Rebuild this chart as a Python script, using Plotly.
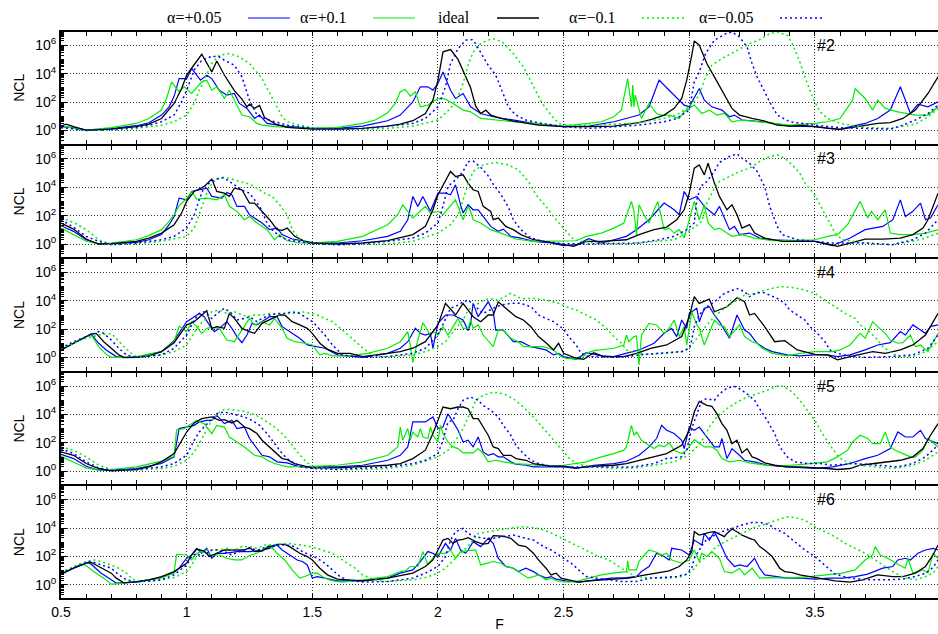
import plotly.graph_objects as go
from plotly.subplots import make_subplots

# ---------------- data (F, log10 NCL) ----------------
panel_labels = ["#2", "#3", "#4", "#5", "#6"]
series_names = ["α=+0.05", "α=+0.1", "ideal", "α=−0.1", "α=−0.05"]
x_tick_vals = [0.5, 1, 1.5, 2, 2.5, 3, 3.5]
x_tick_text = ["0.5", "1", "1.5", "2", "2.5", "3", "3.5"]
y_tick_vals = [1, 1e2, 1e4, 1e6]
y_tick_text = ["10<sup>0</sup>", "10<sup>2</sup>", "10<sup>4</sup>", "10<sup>6</sup>"]

# ---- panel #2 ----
p2_ap005 = [(0.50,0.26),(0.55,0.19),(0.60,0.02),(0.70,0.12),(0.80,0.33),(0.85,0.54),(0.90,1.08),(0.93,1.66),(0.95,2.4),(0.97,3.65),(1.00,3.65),(1.02,4.36),(1.055,3.54),(1.08,3.89),(1.10,3.65),(1.13,2.83),(1.16,2.48),(1.19,2.6),(1.21,1.9),(1.24,1.55),(1.27,0.84),(1.29,1.08),(1.32,0.49),(1.39,0.30),(1.50,0.14),(1.60,0.14),(1.70,0.30),(1.80,0.68),(1.85,1.08),(1.90,2.0),(1.93,3.07),(1.96,3.07),(1.98,2.83),(2.00,3.30),(2.02,4.12),(2.05,2.83),(2.07,2.25),(2.10,2.60),(2.13,1.66),(2.17,1.19),(2.22,0.96),(2.30,0.73),(2.40,0.44),(2.50,0.26),(2.60,0.30),(2.70,0.61),(2.75,0.84),(2.80,1.08),(2.84,1.66),(2.88,3.54),(2.92,2.83),(2.96,2.13),(2.98,1.78),(3.00,1.66),(3.04,2.95),(3.06,2.13),(3.09,1.66),(3.13,1.43),(3.16,0.96),(3.18,1.08),(3.21,0.73),(3.25,0.68),(3.32,0.54),(3.40,0.30),(3.50,0.26),(3.55,0.14),(3.60,0.07),(3.65,0.30),(3.70,0.49),(3.75,0.84),(3.80,1.43),(3.84,3.07),(3.88,1.19),(3.91,1.85),(3.95,1.66),(3.99,2.01)]
p2_ap01 = [(0.50,0.30),(0.60,0.02),(0.70,0.19),(0.80,0.49),(0.85,0.84),(0.90,1.43),(0.92,2.25),(0.94,3.42),(0.97,2.72),(0.99,3.07),(1.02,2.60),(1.06,3.42),(1.08,3.54),(1.10,2.83),(1.12,3.07),(1.15,2.25),(1.17,2.83),(1.19,2.13),(1.22,1.08),(1.25,0.96),(1.28,0.49),(1.30,0.37),(1.35,0.26),(1.50,0.14),(1.60,0.21),(1.70,0.49),(1.75,0.73),(1.80,1.24),(1.83,1.9),(1.85,2.72),(1.87,2.88),(1.89,2.41),(1.91,2.72),(1.93,1.66),(1.96,1.78),(2.00,2.25),(2.03,2.2),(2.06,1.9),(2.08,1.66),(2.10,1.43),(2.13,1.31),(2.17,0.84),(2.26,0.68),(2.40,0.44),(2.50,0.30),(2.60,0.49),(2.65,0.61),(2.70,0.96),(2.73,1.43),(2.755,3.65),(2.77,1.66),(2.775,3.19),(2.78,1.66),(2.785,2.48),(2.81,0.84),(2.84,1.9),(2.87,1.19),(2.89,1.08),(2.92,1.08),(2.96,0.84),(2.98,1.31),(3.02,1.78),(3.05,1.19),(3.08,1.43),(3.11,1.08),(3.14,1.19),(3.17,0.61),(3.21,0.73),(3.28,0.61),(3.40,0.37),(3.50,0.49),(3.55,0.61),(3.60,0.84),(3.65,2.13),(3.66,2.95),(3.70,2.25),(3.73,1.43),(3.75,2.13),(3.78,1.55),(3.83,1.31),(3.90,1.08),(3.95,1.08),(3.99,1.66)]
p2_ideal = [(0.50,0.30),(0.52,0.44),(0.55,0.26),(0.60,0.02),(0.70,0.09),(0.80,0.26),(0.85,0.44),(0.90,0.84),(0.95,1.90),(0.98,2.95),(1.00,3.89),(1.03,4.59),(1.06,5.36),(1.10,4.12),(1.12,4.89),(1.15,3.9),(1.19,2.8),(1.22,2.2),(1.24,1.65),(1.25,1.85),(1.27,1.55),(1.29,1.75),(1.31,0.9),(1.33,0.7),(1.36,0.4),(1.40,0.21),(1.50,0.09),(1.60,0.09),(1.70,0.14),(1.80,0.30),(1.85,0.44),(1.90,0.68),(1.95,1.19),(1.98,2.13),(2.00,3.54),(2.02,5.53),(2.05,5.69),(2.08,5.0),(2.10,4.2),(2.13,3.0),(2.15,1.71),(2.17,1.19),(2.19,1.43),(2.21,1.08),(2.25,0.84),(2.30,0.66),(2.40,0.37),(2.50,0.26),(2.60,0.26),(2.70,0.30),(2.80,0.54),(2.85,0.77),(2.90,1.08),(2.94,1.55),(2.97,2.25),(2.99,3.54),(3.01,5.29),(3.02,6.30),(3.04,6.00),(3.07,4.71),(3.10,3.77),(3.13,2.83),(3.15,2.25),(3.17,1.55),(3.20,1.08),(3.25,0.84),(3.30,0.66),(3.35,0.37),(3.40,0.30),(3.45,0.35),(3.50,0.26),(3.55,0.14),(3.60,0.07),(3.65,0.21),(3.70,0.37),(3.75,0.49),(3.80,0.54),(3.85,0.84),(3.90,1.43),(3.95,2.60),(3.99,3.77)]
p2_am01 = [(0.50,0.19),(0.60,0.0),(0.70,0.02),(0.80,0.14),(0.90,0.37),(0.95,0.61),(1.00,1.08),(1.03,1.9),(1.05,2.83),(1.08,4.0),(1.10,4.71),(1.13,5.29),(1.17,5.41),(1.21,5.18),(1.25,4.71),(1.30,3.65),(1.33,2.6),(1.35,1.9),(1.38,0.96),(1.40,0.61),(1.45,0.37),(1.50,0.19),(1.60,0.07),(1.70,0.07),(1.80,0.14),(1.90,0.30),(2.00,0.73),(2.05,1.55),(2.08,2.4),(2.10,3.3),(2.12,4.6),(2.14,5.5),(2.16,6.0),(2.19,6.3),(2.22,6.46),(2.255,6.25),(2.30,5.41),(2.34,4.47),(2.375,3.3),(2.415,1.9),(2.45,1.08),(2.48,0.49),(2.52,0.37),(2.60,0.37),(2.70,0.44),(2.80,0.54),(2.90,0.84),(2.95,1.08),(3.00,1.66),(3.04,2.48),(3.06,3.54),(3.09,4.59),(3.13,5.06),(3.19,5.64),(3.24,6.11),(3.28,6.39),(3.32,6.81),(3.35,6.93),(3.39,6.7),(3.41,6.11),(3.44,4.82),(3.46,3.77),(3.49,2.37),(3.52,1.31),(3.55,0.84),(3.60,0.49),(3.70,0.21),(3.80,0.14),(3.90,0.44),(3.95,0.96),(3.99,1.55)]
p2_am005 = [(0.50,0.21),(0.60,0.0),(0.70,0.07),(0.80,0.21),(0.85,0.37),(0.90,0.61),(0.95,1.08),(0.98,2.01),(1.00,2.83),(1.03,4.24),(1.06,4.94),(1.10,5.22),(1.13,5.18),(1.15,4.94),(1.19,4.59),(1.22,3.77),(1.25,2.13),(1.28,1.08),(1.30,0.91),(1.35,0.61),(1.40,0.37),(1.50,0.14),(1.60,0.07),(1.70,0.14),(1.80,0.30),(1.90,0.49),(1.95,0.84),(2.00,1.66),(2.03,3.07),(2.05,4.71),(2.08,5.76),(2.11,6.35),(2.136,6.39),(2.15,6.11),(2.18,5.18),(2.20,4.59),(2.23,3.89),(2.255,2.83),(2.28,1.66),(2.31,1.08),(2.35,0.73),(2.40,0.54),(2.50,0.26),(2.60,0.14),(2.70,0.26),(2.80,0.37),(2.90,0.61),(2.95,0.84),(3.00,1.43),(3.02,3.42),(3.04,4.12),(3.065,5.41),(3.10,6.35),(3.145,6.81),(3.17,6.93),(3.20,6.58),(3.23,5.88),(3.25,4.71),(3.27,3.77),(3.32,2.01),(3.35,1.08),(3.40,0.61),(3.50,0.37),(3.60,0.19),(3.70,0.14),(3.80,0.09),(3.85,0.37),(3.90,0.73),(3.95,1.19),(3.99,1.78)]

# ---- panel #3 ----
p3_ap005 = [(0.50,1.29),(0.55,0.89),(0.60,0.3),(0.65,0.0),(0.70,0.02),(0.80,0.12),(0.85,0.3),(0.90,0.66),(0.93,1.36),(0.95,1.94),(0.97,3.23),(1.00,3.11),(1.02,3.7),(1.06,3.82),(1.08,3.93),(1.10,3.35),(1.14,3.23),(1.16,3.63),(1.18,3.47),(1.20,2.65),(1.23,2.65),(1.25,2.06),(1.28,1.71),(1.30,1.48),(1.33,1.01),(1.36,1.12),(1.38,0.66),(1.42,0.35),(1.50,0.12),(1.60,0.07),(1.70,0.23),(1.80,0.54),(1.85,0.89),(1.88,1.71),(1.90,3.35),(1.92,2.65),(1.94,3.35),(1.97,2.3),(2.00,3.58),(2.03,3.58),(2.05,3.47),(2.07,4.17),(2.09,2.76),(2.10,2.18),(2.12,2.76),(2.14,2.41),(2.16,2.41),(2.18,1.94),(2.21,1.24),(2.24,0.89),(2.26,1.05),(2.29,0.54),(2.33,0.42),(2.38,0.19),(2.45,0.07),(2.50,-0.12),(2.55,-0.05),(2.60,0.37),(2.65,0.07),(2.70,0.3),(2.75,0.54),(2.79,1.01),(2.84,1.71),(2.90,2.88),(2.94,2.41),(2.96,2.06),(2.98,3.7),(3.00,3.11),(3.03,3.35),(3.06,2.65),(3.10,2.06),(3.12,2.65),(3.16,1.01),(3.18,1.24),(3.20,0.66),(3.24,0.77),(3.28,0.42),(3.33,0.3),(3.50,0.19),(3.57,-0.12),(3.64,0.42),(3.70,1.01),(3.77,1.24),(3.81,1.71),(3.84,3.11),(3.86,1.94),(3.89,2.3),(3.92,2.88),(3.94,1.71),(3.96,1.83),(3.99,2.76)]
p3_ap01 = [(0.50,1.12),(0.55,0.66),(0.60,0.19),(0.65,0.0),(0.70,0.07),(0.80,0.3),(0.85,0.59),(0.90,1.01),(0.93,1.59),(0.95,2.06),(0.97,2.7),(1.00,3.2),(1.02,3.7),(1.04,3.16),(1.08,3.23),(1.12,3.11),(1.15,3.47),(1.17,2.65),(1.20,2.3),(1.23,1.71),(1.25,1.94),(1.28,1.48),(1.32,1.01),(1.35,0.3),(1.37,0.66),(1.40,0.23),(1.45,0.07),(1.50,0.07),(1.60,0.19),(1.70,0.54),(1.80,1.36),(1.84,2.06),(1.86,2.76),(1.90,1.83),(1.95,2.65),(1.97,2.18),(2.00,2.3),(2.02,2.06),(2.05,2.65),(2.07,3.11),(2.10,1.71),(2.12,2.65),(2.13,2.3),(2.14,1.71),(2.17,1.48),(2.21,1.01),(2.25,0.77),(2.28,0.54),(2.31,0.35),(2.38,0.19),(2.50,0.19),(2.55,0.23),(2.59,0.54),(2.65,0.77),(2.70,1.12),(2.74,1.48),(2.77,3.0),(2.78,2.3),(2.79,0.66),(2.80,2.76),(2.82,2.06),(2.84,1.48),(2.86,2.41),(2.875,3.0),(2.90,1.01),(2.92,1.12),(2.94,0.77),(2.96,1.01),(2.98,0.42),(3.00,1.71),(3.02,3.0),(3.04,1.71),(3.06,2.76),(3.075,1.48),(3.10,1.01),(3.12,1.12),(3.15,0.77),(3.17,0.54),(3.21,0.66),(3.26,0.42),(3.33,0.23),(3.50,0.3),(3.55,0.54),(3.59,0.66),(3.63,1.36),(3.66,2.41),(3.68,3.0),(3.71,1.83),(3.725,2.3),(3.75,1.71),(3.78,2.41),(3.80,0.77),(3.84,0.66),(3.89,0.66),(3.94,0.77),(3.99,1.01)]
p3_ideal = [(0.50,1.48),(0.55,1.05),(0.60,0.35),(0.65,0.0),(0.70,0.02),(0.80,0.19),(0.85,0.42),(0.90,0.77),(0.95,1.36),(0.98,2.18),(1.00,3.0),(1.03,3.7),(1.07,4.05),(1.10,4.57),(1.12,3.7),(1.15,3.58),(1.17,3.35),(1.19,3.93),(1.22,3.82),(1.25,2.88),(1.27,2.88),(1.30,2.3),(1.33,1.71),(1.36,1.01),(1.38,0.96),(1.40,1.12),(1.43,0.54),(1.47,0.19),(1.50,0.07),(1.60,0.0),(1.70,0.07),(1.80,0.23),(1.90,0.66),(1.95,1.24),(1.98,2.41),(2.00,3.47),(2.03,4.52),(2.05,5.11),(2.07,4.75),(2.10,4.87),(2.12,4.29),(2.14,3.82),(2.16,3.7),(2.18,2.65),(2.21,2.3),(2.22,1.71),(2.24,1.83),(2.27,1.24),(2.30,1.01),(2.33,0.66),(2.38,0.3),(2.45,0.07),(2.50,-0.05),(2.54,-0.16),(2.59,0.19),(2.65,0.19),(2.70,0.23),(2.75,0.3),(2.80,0.66),(2.86,1.01),(2.91,1.19),(2.95,1.71),(2.98,2.41),(3.00,3.58),(3.02,5.34),(3.04,5.57),(3.06,4.87),(3.075,5.69),(3.10,4.29),(3.12,3.35),(3.15,2.41),(3.17,2.76),(3.19,2.06),(3.21,1.12),(3.24,1.36),(3.26,0.77),(3.30,0.42),(3.37,0.19),(3.44,0.19),(3.50,0.19),(3.55,0.0),(3.59,-0.16),(3.64,0.07),(3.70,0.35),(3.77,0.35),(3.84,0.42),(3.89,0.66),(3.93,1.12),(3.95,1.71),(3.99,3.58)]
p3_am01 = [(0.50,1.83),(0.55,1.52),(0.60,1.01),(0.65,0.3),(0.70,-0.05),(0.80,0.0),(0.90,0.19),(1.00,0.54),(1.03,1.12),(1.05,2.06),(1.08,3.58),(1.10,4.29),(1.13,4.64),(1.15,4.71),(1.18,4.57),(1.21,4.4),(1.25,4.22),(1.28,3.93),(1.31,3.58),(1.34,3.35),(1.37,2.76),(1.40,2.06),(1.42,1.01),(1.45,0.3),(1.47,0.19),(1.50,0.07),(1.60,-0.05),(1.70,-0.05),(1.80,0.0),(1.90,0.19),(2.00,0.77),(2.05,1.36),(2.08,2.06),(2.10,3.11),(2.12,4.2),(2.14,5.11),(2.18,5.57),(2.23,5.74),(2.28,5.57),(2.32,5.22),(2.36,4.4),(2.39,3.47),(2.43,2.65),(2.47,1.71),(2.51,0.89),(2.54,0.3),(2.57,0.19),(2.65,0.02),(2.75,0.0),(2.86,0.19),(2.94,0.3),(2.99,0.77),(3.05,1.59),(3.07,2.88),(3.10,3.93),(3.12,4.4),(3.16,4.75),(3.20,5.11),(3.24,5.34),(3.28,5.81),(3.32,6.16),(3.35,6.28),(3.38,6.04),(3.41,5.57),(3.44,4.99),(3.46,4.29),(3.50,3.47),(3.53,2.41),(3.56,1.48),(3.58,0.77),(3.61,0.3),(3.70,0.07),(3.80,-0.05),(3.89,0.19),(3.94,0.42),(3.99,0.77)]
p3_am005 = [(0.50,1.71),(0.55,1.19),(0.60,0.54),(0.65,0.19),(0.70,-0.05),(0.80,0.07),(0.90,0.3),(0.95,0.54),(1.00,1.12),(1.03,2.06),(1.05,3.11),(1.07,4.05),(1.10,4.4),(1.13,4.64),(1.15,4.64),(1.18,4.29),(1.20,4.05),(1.23,3.7),(1.25,3.58),(1.27,3.11),(1.29,2.65),(1.30,2.3),(1.32,1.48),(1.34,1.01),(1.37,0.54),(1.40,0.3),(1.50,0.02),(1.60,-0.05),(1.70,0.02),(1.80,0.19),(1.90,0.42),(1.95,0.77),(2.00,1.48),(2.02,2.65),(2.04,4.05),(2.07,4.52),(2.10,5.11),(2.12,5.8),(2.14,5.85),(2.17,5.4),(2.20,4.8),(2.22,4.2),(2.25,3.5),(2.28,2.6),(2.30,1.71),(2.33,1.01),(2.37,0.42),(2.42,0.19),(2.50,0.02),(2.59,0.0),(2.70,0.02),(2.80,0.07),(2.88,0.3),(2.94,0.54),(2.99,1.01),(3.02,1.48),(3.03,3.11),(3.045,4.05),(3.07,4.4),(3.10,5.11),(3.12,5.74),(3.16,6.16),(3.19,6.35),(3.21,6.04),(3.24,5.69),(3.27,5.11),(3.30,4.05),(3.32,2.65),(3.35,1.24),(3.37,0.66),(3.43,0.3),(3.50,0.19),(3.57,0.07),(3.70,0.07),(3.81,-0.05),(3.89,0.3),(3.94,0.77),(3.99,1.71)]

# ---- panel #4 ----
p4_ap005 = [(0.50,0.54),(0.55,1.01),(0.60,1.48),(0.62,1.66),(0.65,1.01),(0.68,0.54),(0.72,0.07),(0.75,0.0),(0.80,0.02),(0.90,0.42),(0.95,1.19),(1.00,2.53),(1.02,2.76),(1.05,3.11),(1.07,2.88),(1.09,2.3),(1.11,1.83),(1.13,2.06),(1.16,2.53),(1.18,2.06),(1.20,1.48),(1.22,1.05),(1.24,1.59),(1.26,2.41),(1.28,2.3),(1.30,2.53),(1.33,2.88),(1.36,2.88),(1.38,2.18),(1.42,1.71),(1.45,1.36),(1.48,0.89),(1.50,0.82),(1.55,0.66),(1.60,0.19),(1.70,0.02),(1.80,0.3),(1.85,0.66),(1.88,1.12),(1.91,2.06),(1.93,1.71),(1.95,1.59),(1.97,1.71),(1.98,0.66),(2.00,2.41),(2.03,3.0),(2.06,3.0),(2.10,2.65),(2.12,1.9),(2.13,2.41),(2.14,3.82),(2.16,2.88),(2.20,3.93),(2.22,3.23),(2.23,1.94),(2.26,1.94),(2.30,1.12),(2.33,1.12),(2.37,0.77),(2.40,0.66),(2.43,0.54),(2.46,0.19),(2.48,0.3),(2.50,0.07),(2.55,-0.12),(2.59,0.35),(2.65,0.12),(2.70,0.07),(2.75,0.3),(2.80,0.54),(2.86,1.01),(2.90,1.71),(2.93,2.06),(2.95,1.48),(2.97,2.65),(2.99,2.06),(3.00,3.11),(3.03,3.47),(3.04,2.53),(3.06,3.47),(3.08,3.58),(3.10,3.0),(3.12,2.53),(3.16,1.36),(3.19,3.0),(3.22,1.94),(3.24,1.71),(3.27,1.01),(3.30,0.66),(3.33,0.42),(3.39,0.19),(3.44,0.12),(3.50,0.19),(3.55,0.19),(3.59,0.07),(3.64,0.19),(3.70,0.54),(3.75,0.89),(3.80,1.05),(3.84,1.83),(3.86,1.59),(3.89,2.3),(3.92,1.94),(3.94,1.71),(3.96,2.18),(3.99,2.3)]
p4_ap01 = [(0.50,0.54),(0.55,1.01),(0.60,1.48),(0.62,1.59),(0.65,0.77),(0.68,0.23),(0.70,0.02),(0.75,0.02),(0.80,0.07),(0.90,0.42),(0.95,1.12),(0.97,2.2),(1.00,1.83),(1.02,2.53),(1.04,2.18),(1.06,1.71),(1.08,2.06),(1.10,2.13),(1.13,2.06),(1.16,1.24),(1.19,1.12),(1.25,2.76),(1.27,2.3),(1.30,2.53),(1.33,2.3),(1.35,2.76),(1.38,2.06),(1.40,1.36),(1.43,1.12),(1.47,1.01),(1.50,0.89),(1.53,0.19),(1.55,0.3),(1.58,0.12),(1.65,0.12),(1.72,0.3),(1.80,0.66),(1.85,1.12),(1.88,1.83),(1.89,0.89),(1.90,-0.33),(1.92,1.24),(1.94,2.46),(1.97,1.59),(1.98,1.83),(2.00,1.59),(2.02,2.18),(2.04,1.59),(2.06,2.18),(2.08,2.76),(2.10,2.06),(2.12,2.06),(2.13,2.65),(2.14,2.06),(2.16,2.3),(2.18,1.59),(2.22,0.77),(2.24,1.94),(2.26,1.94),(2.29,1.36),(2.32,1.12),(2.34,0.77),(2.42,0.77),(2.46,0.54),(2.49,0.07),(2.51,-0.05),(2.57,-0.12),(2.59,0.3),(2.62,0.49),(2.66,0.59),(2.70,0.66),(2.74,0.89),(2.75,1.59),(2.76,1.12),(2.78,1.48),(2.79,1.52),(2.80,-0.52),(2.81,1.59),(2.84,2.41),(2.87,2.3),(2.90,1.71),(2.92,2.06),(2.94,2.65),(2.96,1.48),(2.98,2.18),(2.99,0.89),(3.01,3.23),(3.03,2.3),(3.04,2.06),(3.06,0.89),(3.08,1.71),(3.10,2.65),(3.12,2.3),(3.14,2.18),(3.16,1.48),(3.20,2.3),(3.22,1.48),(3.25,1.12),(3.27,1.01),(3.29,0.66),(3.33,0.3),(3.39,0.12),(3.44,0.3),(3.50,0.42),(3.57,0.42),(3.60,0.54),(3.64,0.89),(3.68,1.71),(3.70,1.36),(3.73,2.53),(3.75,2.18),(3.78,1.71),(3.80,1.24),(3.83,1.01),(3.85,1.05),(3.88,1.59),(3.90,0.77),(3.92,0.89),(3.95,0.42),(3.99,1.71)]
p4_ideal = [(0.50,0.54),(0.55,1.01),(0.60,1.48),(0.62,1.66),(0.64,1.71),(0.67,1.12),(0.70,0.66),(0.73,0.19),(0.75,0.02),(0.80,0.02),(0.85,0.12),(0.90,0.42),(0.95,1.05),(1.00,2.3),(1.03,2.53),(1.06,3.0),(1.08,3.3),(1.10,2.06),(1.12,2.18),(1.15,2.06),(1.17,3.11),(1.19,2.76),(1.22,2.06),(1.25,1.83),(1.27,1.71),(1.30,2.41),(1.33,2.65),(1.37,3.0),(1.39,3.0),(1.42,2.53),(1.45,2.3),(1.48,2.06),(1.50,1.71),(1.53,1.01),(1.56,0.59),(1.60,0.3),(1.65,0.3),(1.70,0.07),(1.80,0.3),(1.85,0.42),(1.90,0.66),(1.95,1.12),(2.00,2.3),(2.03,3.82),(2.07,3.0),(2.10,3.82),(2.12,3.35),(2.14,2.88),(2.17,2.53),(2.20,3.0),(2.22,3.0),(2.24,3.93),(2.27,3.47),(2.31,2.88),(2.34,2.65),(2.37,2.18),(2.40,1.48),(2.43,1.05),(2.46,0.54),(2.48,1.01),(2.50,0.3),(2.54,0.02),(2.58,-0.12),(2.62,0.35),(2.66,0.07),(2.74,0.07),(2.79,0.3),(2.85,0.66),(2.91,0.89),(2.97,1.48),(3.00,2.88),(3.02,4.29),(3.04,3.82),(3.08,4.12),(3.10,3.23),(3.15,3.58),(3.19,4.22),(3.22,3.93),(3.24,3.0),(3.26,3.11),(3.30,2.18),(3.34,1.12),(3.38,1.19),(3.43,0.54),(3.50,0.23),(3.55,0.19),(3.59,-0.16),(3.64,0.07),(3.73,0.42),(3.78,0.3),(3.84,0.54),(3.89,0.89),(3.94,1.59),(3.99,3.11)]
p4_am01 = [(0.50,0.66),(0.55,1.01),(0.60,1.36),(0.65,1.59),(0.70,1.71),(0.72,1.36),(0.75,0.77),(0.78,0.3),(0.80,0.07),(0.90,0.19),(0.95,0.42),(1.00,0.89),(1.03,1.71),(1.05,2.3),(1.08,2.76),(1.10,3.23),(1.13,3.35),(1.16,3.11),(1.19,3.23),(1.21,3.11),(1.24,2.88),(1.27,3.0),(1.30,3.0),(1.33,3.11),(1.36,3.0),(1.40,3.11),(1.43,3.11),(1.46,3.23),(1.49,3.11),(1.52,3.0),(1.55,2.76),(1.58,2.53),(1.62,1.94),(1.65,1.48),(1.68,1.01),(1.71,0.54),(1.74,0.19),(1.80,0.02),(1.90,0.19),(1.95,0.42),(2.00,0.77),(2.03,1.12),(2.05,1.59),(2.08,2.18),(2.10,2.65),(2.12,3.35),(2.16,3.82),(2.20,4.17),(2.24,4.05),(2.29,4.52),(2.33,4.17),(2.38,4.17),(2.43,4.05),(2.48,3.82),(2.51,3.58),(2.55,3.35),(2.59,3.0),(2.63,2.65),(2.67,2.06),(2.70,1.48),(2.73,1.01),(2.75,0.54),(2.78,0.35),(2.83,0.23),(2.91,0.3),(2.97,0.42),(3.00,0.66),(3.03,1.36),(3.05,1.83),(3.07,2.3),(3.10,2.88),(3.14,3.47),(3.18,3.93),(3.22,4.4),(3.26,4.52),(3.30,4.75),(3.34,4.92),(3.37,4.99),(3.42,4.92),(3.46,4.75),(3.50,4.52),(3.54,4.05),(3.58,3.58),(3.62,3.11),(3.66,2.76),(3.68,2.3),(3.71,1.94),(3.75,1.24),(3.77,0.77),(3.81,0.3),(3.84,0.02),(3.89,0.07),(3.94,0.42),(3.99,1.12)]
p4_am005 = [(0.50,0.66),(0.55,1.12),(0.60,1.48),(0.65,1.83),(0.67,1.71),(0.70,1.24),(0.73,0.66),(0.76,0.19),(0.80,0.02),(0.90,0.19),(0.95,0.66),(1.00,1.59),(1.03,2.65),(1.05,3.11),(1.07,3.23),(1.10,2.76),(1.13,3.23),(1.15,3.47),(1.18,3.11),(1.20,2.65),(1.23,2.76),(1.25,2.88),(1.28,2.53),(1.30,2.76),(1.33,3.0),(1.36,3.11),(1.39,3.11),(1.42,3.23),(1.45,3.11),(1.48,2.76),(1.50,2.53),(1.52,2.18),(1.55,1.59),(1.58,0.89),(1.60,0.54),(1.62,0.19),(1.70,0.02),(1.80,0.07),(1.90,0.3),(1.95,0.66),(2.00,1.59),(2.03,2.65),(2.05,3.47),(2.08,3.7),(2.10,3.93),(2.12,4.05),(2.15,3.58),(2.18,3.11),(2.22,3.47),(2.25,3.7),(2.29,3.82),(2.33,3.82),(2.37,3.58),(2.40,3.0),(2.43,2.76),(2.46,2.53),(2.50,2.0),(2.52,1.48),(2.55,0.89),(2.57,0.3),(2.60,0.07),(2.70,0.02),(2.75,0.07),(2.80,0.19),(2.91,0.35),(2.97,0.42),(3.00,0.66),(3.01,1.24),(3.02,2.18),(3.04,3.0),(3.07,3.58),(3.10,3.93),(3.14,4.52),(3.17,4.75),(3.19,4.87),(3.22,4.64),(3.24,4.29),(3.27,4.57),(3.30,4.57),(3.32,4.4),(3.35,4.17),(3.38,3.82),(3.40,3.35),(3.43,3.0),(3.46,2.65),(3.48,2.18),(3.51,1.71),(3.54,1.12),(3.56,0.54),(3.59,0.3),(3.65,0.07),(3.70,0.02),(3.80,0.07),(3.89,0.19),(3.92,0.42),(3.95,0.66),(3.99,1.59)]

# ---- panel #5 ----
p5_ap005 = [(0.50,1.19),(0.55,0.89),(0.60,0.35),(0.65,0.07),(0.70,0.07),(0.80,0.19),(0.90,0.54),(0.95,1.01),(0.97,3.0),(1.00,3.11),(1.03,3.23),(1.05,3.47),(1.08,3.58),(1.10,3.58),(1.12,3.93),(1.15,3.35),(1.18,3.58),(1.20,3.0),(1.23,3.11),(1.25,2.3),(1.28,1.59),(1.30,1.12),(1.33,1.01),(1.36,0.66),(1.40,0.59),(1.45,0.3),(1.50,0.3),(1.60,0.3),(1.70,0.42),(1.80,0.77),(1.85,1.12),(1.88,1.71),(1.90,3.47),(1.93,3.47),(1.95,3.47),(1.98,3.82),(2.00,3.0),(2.02,3.11),(2.04,4.05),(2.06,3.47),(2.08,2.88),(2.10,2.06),(2.12,2.18),(2.14,1.71),(2.16,2.41),(2.18,1.36),(2.20,1.12),(2.22,1.24),(2.24,1.01),(2.26,1.01),(2.29,0.66),(2.31,0.49),(2.35,0.42),(2.38,0.3),(2.45,0.3),(2.50,0.3),(2.55,0.19),(2.62,0.42),(2.70,0.54),(2.75,0.7),(2.80,1.12),(2.84,1.71),(2.87,2.3),(2.89,3.23),(2.91,2.88),(2.94,2.65),(2.97,2.18),(2.98,1.59),(3.00,3.11),(3.02,2.88),(3.04,3.11),(3.07,2.41),(3.10,1.71),(3.12,1.71),(3.13,2.3),(3.15,0.89),(3.17,1.59),(3.20,1.12),(3.22,0.77),(3.26,0.66),(3.31,0.42),(3.39,0.3),(3.50,0.19),(3.57,0.3),(3.64,0.54),(3.70,0.89),(3.75,1.12),(3.80,1.59),(3.83,2.76),(3.86,2.41),(3.89,2.41),(3.92,2.88),(3.94,2.3),(3.99,1.94)]
p5_ap01 = [(0.50,1.05),(0.55,0.66),(0.60,0.23),(0.65,0.07),(0.70,0.12),(0.80,0.3),(0.90,0.71),(0.95,1.05),(0.96,2.9),(0.99,3.0),(1.01,3.23),(1.04,3.58),(1.07,3.35),(1.10,2.65),(1.12,3.23),(1.15,3.11),(1.17,2.41),(1.20,2.06),(1.23,1.71),(1.27,1.12),(1.30,1.01),(1.32,0.77),(1.35,0.54),(1.40,0.3),(1.45,0.3),(1.50,0.35),(1.60,0.42),(1.70,0.66),(1.80,1.12),(1.84,1.71),(1.85,3.11),(1.86,2.18),(1.88,3.0),(1.89,2.18),(1.90,2.76),(1.92,2.41),(1.93,3.0),(1.94,2.41),(1.96,2.3),(1.97,3.11),(1.98,2.53),(2.00,2.06),(2.01,3.23),(2.02,2.65),(2.04,2.06),(2.06,1.71),(2.08,1.59),(2.10,1.29),(2.12,1.29),(2.14,1.29),(2.16,1.59),(2.18,1.24),(2.20,0.66),(2.23,0.77),(2.26,0.66),(2.30,0.54),(2.36,0.49),(2.42,0.35),(2.50,0.42),(2.55,0.54),(2.59,0.66),(2.65,1.01),(2.70,1.24),(2.74,1.48),(2.75,1.71),(2.77,3.23),(2.78,2.53),(2.79,2.76),(2.81,2.18),(2.83,1.94),(2.86,1.59),(2.88,1.83),(2.90,1.71),(2.92,1.99),(2.94,1.48),(2.97,1.24),(2.99,1.48),(3.02,2.22),(3.04,1.94),(3.06,1.71),(3.09,1.71),(3.11,1.48),(3.13,0.89),(3.16,0.66),(3.20,0.77),(3.24,0.59),(3.31,0.42),(3.39,0.4),(3.44,0.47),(3.50,0.59),(3.55,0.66),(3.59,1.01),(3.63,1.48),(3.65,2.06),(3.68,2.53),(3.71,2.3),(3.73,1.94),(3.76,1.94),(3.78,2.76),(3.80,1.71),(3.82,1.48),(3.85,1.24),(3.88,1.01),(3.90,1.01),(3.93,1.48),(3.95,2.3),(3.99,1.71)]
p5_ideal = [(0.50,1.36),(0.55,1.12),(0.60,0.54),(0.65,0.19),(0.70,0.02),(0.80,0.12),(0.85,0.3),(0.90,0.66),(0.95,1.24),(0.98,2.18),(1.00,2.76),(1.03,3.4),(1.06,3.7),(1.10,3.82),(1.13,3.58),(1.15,3.63),(1.18,3.4),(1.20,3.58),(1.23,3.11),(1.25,3.0),(1.28,2.65),(1.30,2.18),(1.33,1.71),(1.36,1.24),(1.38,0.89),(1.40,0.82),(1.43,0.54),(1.47,0.35),(1.50,0.23),(1.60,0.23),(1.70,0.3),(1.80,0.42),(1.85,0.54),(1.90,0.89),(1.95,1.48),(1.98,2.65),(2.00,3.58),(2.02,4.52),(2.05,4.4),(2.08,4.52),(2.10,4.52),(2.12,4.4),(2.14,3.7),(2.16,3.7),(2.18,3.11),(2.20,2.53),(2.22,1.71),(2.24,1.59),(2.26,1.12),(2.29,1.12),(2.31,0.89),(2.35,0.77),(2.38,0.54),(2.45,0.35),(2.50,0.35),(2.55,0.23),(2.62,0.35),(2.70,0.42),(2.75,0.54),(2.80,0.77),(2.86,1.01),(2.91,1.24),(2.97,1.83),(3.00,2.88),(3.02,4.17),(3.04,4.92),(3.07,4.64),(3.09,4.57),(3.11,4.05),(3.13,3.35),(3.15,2.88),(3.17,1.94),(3.19,2.18),(3.21,1.29),(3.23,1.59),(3.25,1.01),(3.27,0.89),(3.30,0.59),(3.34,0.42),(3.39,0.3),(3.44,0.3),(3.50,0.26),(3.55,0.19),(3.59,0.12),(3.64,0.19),(3.68,0.42),(3.73,0.54),(3.78,0.66),(3.84,0.77),(3.89,1.01),(3.93,1.59),(3.96,2.53),(3.99,3.35)]
p5_am01 = [(0.50,1.71),(0.55,1.48),(0.60,1.01),(0.65,0.42),(0.70,0.12),(0.80,0.07),(0.90,0.19),(0.95,0.35),(1.00,0.77),(1.03,1.36),(1.05,1.94),(1.08,2.88),(1.10,3.58),(1.13,4.17),(1.15,4.35),(1.18,4.33),(1.20,4.29),(1.23,4.22),(1.26,4.05),(1.29,3.82),(1.32,3.47),(1.35,3.11),(1.38,2.65),(1.41,2.06),(1.44,1.36),(1.47,0.77),(1.50,0.3),(1.55,0.19),(1.60,0.12),(1.70,0.12),(1.80,0.19),(1.90,0.42),(2.00,1.01),(2.05,1.59),(2.08,2.41),(2.10,3.0),(2.12,3.82),(2.13,4.05),(2.15,4.99),(2.18,5.34),(2.22,5.57),(2.26,5.45),(2.30,5.11),(2.34,4.52),(2.38,3.82),(2.42,3.0),(2.46,2.18),(2.50,1.36),(2.53,0.77),(2.56,0.49),(2.62,0.3),(2.70,0.19),(2.78,0.23),(2.86,0.42),(2.94,0.66),(2.99,1.05),(3.03,1.71),(3.06,2.41),(3.08,3.11),(3.11,3.82),(3.15,4.4),(3.19,4.87),(3.23,5.22),(3.27,5.45),(3.31,5.69),(3.34,5.93),(3.36,6.04),(3.38,5.93),(3.41,5.57),(3.44,4.99),(3.47,4.29),(3.50,3.58),(3.53,2.65),(3.56,1.83),(3.59,1.12),(3.61,0.77),(3.68,0.42),(3.78,0.23),(3.83,0.23),(3.89,0.42),(3.94,0.77),(3.99,1.36)]
p5_am005 = [(0.50,1.59),(0.55,1.24),(0.60,0.66),(0.65,0.23),(0.70,0.07),(0.80,0.12),(0.90,0.3),(0.95,0.54),(1.00,1.12),(1.03,2.18),(1.05,2.76),(1.07,3.11),(1.10,3.7),(1.12,4.05),(1.15,4.17),(1.18,4.05),(1.20,3.93),(1.23,3.82),(1.26,3.58),(1.29,3.23),(1.32,2.65),(1.35,1.94),(1.38,1.24),(1.40,0.89),(1.43,0.54),(1.46,0.3),(1.50,0.19),(1.60,0.12),(1.70,0.19),(1.80,0.3),(1.90,0.54),(1.95,0.77),(2.00,1.24),(2.02,2.18),(2.04,3.47),(2.06,3.58),(2.08,4.4),(2.10,4.99),(2.13,5.22),(2.16,4.99),(2.18,4.64),(2.21,4.29),(2.24,3.82),(2.26,3.23),(2.29,2.53),(2.31,1.83),(2.34,1.24),(2.37,0.77),(2.40,0.54),(2.45,0.35),(2.50,0.3),(2.60,0.3),(2.70,0.35),(2.78,0.3),(2.86,0.54),(2.91,0.89),(2.97,1.01),(2.99,1.48),(3.01,3.0),(3.03,4.05),(3.05,4.99),(3.07,5.11),(3.10,4.99),(3.12,5.45),(3.15,5.85),(3.18,5.97),(3.20,5.81),(3.23,5.45),(3.26,4.99),(3.28,4.4),(3.31,3.58),(3.34,2.65),(3.36,1.71),(3.39,1.01),(3.42,0.66),(3.47,0.54),(3.52,0.54),(3.57,0.42),(3.65,0.54),(3.70,0.49),(3.78,0.35),(3.83,0.3),(3.89,0.54),(3.94,1.01),(3.99,1.83)]

# ---- panel #6 ----
p6_ap005 = [(0.50,0.75),(0.55,1.17),(0.60,1.52),(0.61,1.59),(0.63,1.29),(0.66,0.82),(0.70,0.35),(0.72,0.12),(0.80,0.19),(0.90,0.51),(0.95,0.86),(0.97,1.17),(1.00,1.87),(1.02,2.1),(1.04,2.57),(1.06,2.22),(1.08,2.57),(1.10,1.87),(1.12,2.22),(1.15,2.22),(1.20,2.34),(1.25,2.34),(1.30,2.45),(1.33,2.57),(1.36,2.8),(1.38,2.45),(1.41,2.1),(1.44,1.75),(1.46,1.64),(1.48,1.4),(1.50,0.47),(1.52,0.58),(1.55,0.47),(1.60,0.28),(1.70,0.28),(1.80,0.47),(1.85,0.82),(1.90,1.05),(1.93,1.64),(1.96,2.34),(1.98,2.22),(2.00,1.99),(2.03,2.92),(2.05,2.45),(2.07,3.27),(2.09,2.45),(2.11,2.22),(2.12,2.45),(2.14,3.04),(2.17,2.69),(2.20,3.27),(2.22,2.92),(2.24,1.87),(2.27,1.29),(2.30,1.17),(2.32,0.93),(2.35,1.17),(2.38,0.93),(2.40,0.7),(2.43,0.47),(2.45,0.58),(2.47,0.4),(2.51,0.28),(2.56,0.19),(2.63,0.35),(2.69,0.47),(2.75,0.51),(2.79,0.58),(2.81,0.93),(2.84,1.29),(2.87,2.22),(2.90,1.99),(2.92,1.75),(2.93,2.57),(2.97,2.45),(2.99,2.22),(3.00,2.1),(3.02,3.15),(3.05,2.8),(3.06,3.62),(3.08,3.15),(3.10,3.74),(3.12,3.04),(3.15,1.87),(3.18,1.29),(3.20,1.4),(3.23,1.29),(3.26,1.87),(3.28,1.17),(3.30,0.7),(3.34,0.58),(3.39,0.47),(3.45,0.47),(3.50,0.4),(3.56,0.47),(3.61,0.47),(3.66,0.58),(3.71,0.75),(3.77,1.17),(3.81,1.29),(3.83,1.75),(3.86,1.87),(3.88,1.75),(3.91,2.22),(3.94,2.45),(3.97,2.57),(3.99,2.45)]
p6_ap01 = [(0.50,0.75),(0.55,1.17),(0.58,1.45),(0.60,1.36),(0.63,0.93),(0.67,0.47),(0.70,0.05),(0.75,0.12),(0.80,0.23),(0.90,0.51),(0.95,0.82),(0.96,2.15),(1.00,2.1),(1.02,1.75),(1.04,2.22),(1.06,2.34),(1.08,2.22),(1.10,2.1),(1.13,2.1),(1.16,1.87),(1.19,1.75),(1.22,1.75),(1.25,2.06),(1.28,2.22),(1.30,2.45),(1.33,2.8),(1.36,2.22),(1.39,1.75),(1.42,1.05),(1.45,0.47),(1.47,0.58),(1.50,0.82),(1.52,0.82),(1.55,0.47),(1.58,0.28),(1.62,0.19),(1.70,0.35),(1.80,0.58),(1.85,0.93),(1.87,0.98),(1.89,1.29),(1.92,1.29),(1.94,2.34),(1.96,1.4),(1.98,1.87),(2.00,2.22),(2.03,2.22),(2.05,2.45),(2.07,1.87),(2.09,2.34),(2.12,2.4),(2.15,2.45),(2.17,1.4),(2.20,1.52),(2.22,1.64),(2.25,1.52),(2.27,1.29),(2.30,1.17),(2.32,0.93),(2.36,0.47),(2.38,0.58),(2.40,0.7),(2.43,0.35),(2.45,0.47),(2.48,0.23),(2.52,0.19),(2.56,0.28),(2.60,0.47),(2.65,0.7),(2.71,0.86),(2.75,0.93),(2.755,1.68),(2.76,1.05),(2.79,1.05),(2.80,1.64),(2.81,1.87),(2.84,2.45),(2.87,2.29),(2.89,2.1),(2.91,2.22),(2.93,1.75),(2.97,1.52),(3.00,1.75),(3.02,2.45),(3.04,1.64),(3.05,2.22),(3.07,1.99),(3.09,2.34),(3.12,1.87),(3.14,0.93),(3.17,0.82),(3.20,1.17),(3.22,0.7),(3.25,1.17),(3.28,0.47),(3.31,0.51),(3.39,0.47),(3.48,0.58),(3.56,0.7),(3.61,0.82),(3.66,1.05),(3.70,1.75),(3.73,2.1),(3.74,2.69),(3.76,2.1),(3.79,1.87),(3.83,1.45),(3.86,1.17),(3.87,1.87),(3.89,0.82),(3.91,0.93),(3.93,1.05),(3.95,0.82),(3.97,2.22),(3.99,1.87)]
p6_ideal = [(0.50,0.75),(0.55,1.17),(0.60,1.52),(0.62,1.57),(0.65,1.29),(0.70,0.82),(0.72,0.47),(0.75,0.14),(0.80,0.23),(0.85,0.35),(0.90,0.58),(0.95,0.93),(1.00,1.52),(1.02,2.1),(1.04,2.52),(1.07,2.38),(1.09,1.99),(1.12,2.22),(1.15,2.45),(1.20,2.45),(1.23,2.45),(1.25,2.62),(1.27,2.34),(1.30,2.38),(1.33,2.69),(1.36,2.85),(1.39,2.85),(1.41,2.69),(1.45,2.22),(1.48,1.99),(1.50,1.75),(1.53,1.17),(1.56,0.7),(1.60,0.4),(1.65,0.35),(1.70,0.28),(1.80,0.47),(1.85,0.63),(1.90,0.82),(1.95,1.29),(1.98,1.75),(2.00,2.45),(2.02,3.15),(2.04,3.27),(2.06,2.92),(2.08,3.15),(2.10,3.2),(2.12,3.32),(2.15,3.04),(2.18,2.87),(2.20,2.92),(2.22,3.46),(2.26,3.42),(2.29,3.27),(2.32,2.8),(2.35,2.69),(2.38,2.22),(2.40,1.75),(2.43,1.17),(2.45,0.7),(2.47,0.82),(2.49,0.47),(2.52,0.35),(2.56,0.19),(2.60,0.28),(2.65,0.35),(2.71,0.4),(2.76,0.47),(2.81,0.65),(2.87,0.82),(2.92,0.98),(2.96,1.29),(2.99,1.75),(3.01,2.34),(3.02,3.74),(3.04,3.5),(3.06,3.62),(3.08,3.69),(3.10,3.74),(3.14,3.39),(3.15,3.62),(3.17,3.93),(3.19,3.74),(3.21,3.5),(3.24,3.27),(3.26,3.15),(3.28,2.69),(3.30,2.45),(3.33,1.99),(3.36,1.17),(3.38,0.93),(3.41,0.86),(3.44,0.7),(3.48,0.58),(3.53,0.4),(3.58,0.28),(3.64,0.19),(3.69,0.35),(3.75,0.7),(3.81,0.58),(3.85,0.58),(3.90,0.82),(3.94,1.29),(3.97,2.1),(3.99,2.8)]
p6_am01 = [(0.50,0.86),(0.55,1.29),(0.60,1.64),(0.63,1.75),(0.66,1.64),(0.70,1.36),(0.73,1.17),(0.76,0.82),(0.78,0.47),(0.80,0.28),(0.85,0.23),(0.90,0.35),(0.95,0.51),(1.00,0.93),(1.02,1.4),(1.04,1.99),(1.06,2.22),(1.08,2.45),(1.10,2.45),(1.13,2.45),(1.16,2.57),(1.19,2.45),(1.22,2.69),(1.25,2.69),(1.28,2.57),(1.31,2.8),(1.34,2.8),(1.37,2.85),(1.40,2.92),(1.43,2.85),(1.46,2.8),(1.49,2.69),(1.52,2.57),(1.55,2.38),(1.58,2.22),(1.61,1.87),(1.64,1.52),(1.67,1.17),(1.70,0.7),(1.73,0.47),(1.76,0.28),(1.80,0.23),(1.90,0.35),(1.95,0.51),(2.00,0.82),(2.03,1.17),(2.05,1.52),(2.08,2.1),(2.10,2.45),(2.13,2.92),(2.16,3.62),(2.20,3.74),(2.24,3.86),(2.28,3.97),(2.34,4.09),(2.40,3.97),(2.44,3.74),(2.48,3.39),(2.52,3.04),(2.56,2.69),(2.60,2.34),(2.64,1.99),(2.68,1.75),(2.71,1.4),(2.73,1.17),(2.76,0.82),(2.79,0.58),(2.84,0.47),(2.92,0.47),(2.97,0.58),(3.01,0.93),(3.03,1.4),(3.05,1.75),(3.08,2.1),(3.10,2.57),(3.13,2.92),(3.17,3.27),(3.21,3.62),(3.25,3.97),(3.29,4.21),(3.33,4.44),(3.37,4.67),(3.39,4.79),(3.42,4.72),(3.46,4.56),(3.50,4.09),(3.54,3.74),(3.58,3.39),(3.62,2.92),(3.66,2.57),(3.70,2.22),(3.74,1.75),(3.78,1.29),(3.82,0.82),(3.86,0.47),(3.90,0.35),(3.94,0.58),(3.97,0.82),(3.99,1.29)]
p6_am005 = [(0.50,0.82),(0.55,1.21),(0.60,1.57),(0.62,1.64),(0.65,1.45),(0.70,1.17),(0.73,0.7),(0.76,0.35),(0.80,0.19),(0.90,0.35),(0.95,0.7),(1.00,1.4),(1.02,1.99),(1.04,2.22),(1.06,1.99),(1.08,2.22),(1.10,2.45),(1.12,2.45),(1.15,2.34),(1.18,2.1),(1.20,2.29),(1.23,2.45),(1.25,2.57),(1.28,2.45),(1.30,2.57),(1.33,2.73),(1.36,2.8),(1.40,2.8),(1.43,2.69),(1.46,2.34),(1.49,2.1),(1.52,1.87),(1.55,1.52),(1.58,1.05),(1.61,0.58),(1.64,0.35),(1.70,0.19),(1.80,0.23),(1.90,0.47),(1.95,0.82),(2.00,1.29),(2.03,1.99),(2.05,3.15),(2.07,3.74),(2.10,3.97),(2.12,3.6),(2.15,3.39),(2.18,3.27),(2.22,3.27),(2.26,3.39),(2.30,3.5),(2.34,3.32),(2.38,3.15),(2.42,2.69),(2.45,2.45),(2.49,1.99),(2.53,1.52),(2.56,1.05),(2.59,0.58),(2.63,0.47),(2.68,0.35),(2.73,0.23),(2.79,0.23),(2.84,0.47),(2.89,0.51),(2.95,0.58),(2.99,0.75),(3.01,1.17),(3.02,1.87),(3.05,2.8),(3.06,3.04),(3.09,3.39),(3.13,3.74),(3.17,3.97),(3.21,4.21),(3.25,4.39),(3.29,4.37),(3.32,4.21),(3.34,3.97),(3.38,3.62),(3.42,3.04),(3.46,2.45),(3.50,1.99),(3.53,1.52),(3.56,1.05),(3.58,0.75),(3.64,0.47),(3.71,0.35),(3.79,0.35),(3.85,0.4),(3.90,0.58),(3.94,0.82),(3.97,1.21),(3.99,1.75)]

panels = [
    [p2_ap005, p2_ap01, p2_ideal, p2_am01, p2_am005],
    [p3_ap005, p3_ap01, p3_ideal, p3_am01, p3_am005],
    [p4_ap005, p4_ap01, p4_ideal, p4_am01, p4_am005],
    [p5_ap005, p5_ap01, p5_ideal, p5_am01, p5_am005],
    [p6_ap005, p6_ap01, p6_ideal, p6_am01, p6_am005],
]

# ---------------- styles ----------------
BLUE = "#0000ff"
GREEN = "#00ee00"
BLACK = "#000000"
styles = {
    "α=+0.05": dict(color=BLUE, width=1.2, dash="solid"),
    "α=+0.1": dict(color=GREEN, width=1.2, dash="solid"),
    "ideal": dict(color=BLACK, width=1.3, dash="solid"),
    "α=−0.1": dict(color=GREEN, width=1.5, dash="2px,3px"),
    "α=−0.05": dict(color=BLUE, width=1.5, dash="2px,3px"),
}
SANS = "Liberation Sans, Arial, sans-serif"
SERIF = "Liberation Serif, Times New Roman, serif"

W, H = 938, 634
ML, MR, MT, MB = 61, 0, 31, 35
plot_w = W - ML - MR
plot_h = H - MT - MB
PX_PER_F = 251.3

fig = make_subplots(rows=5, cols=1, shared_xaxes=True, vertical_spacing=0)

for r, data in enumerate(panels, start=1):
    for name, pts in zip(series_names, data):
        st = styles[name]
        fig.add_trace(
            go.Scatter(
                x=[p[0] for p in pts],
                y=[10 ** p[1] for p in pts],
                mode="lines",
                name=name,
                showlegend=False,
                line=dict(color=st["color"], width=st["width"], dash=st["dash"]),
            ),
            row=r, col=1,
        )

minor_y = [m * 10 ** k for k in range(-1, 7) for m in range(2, 10)] + [10 ** k for k in (-1, 1, 3, 5)]

for r in range(1, 6):
    fig.update_xaxes(
        row=r, col=1,
        range=[0.5, 0.5 + plot_w / PX_PER_F],
        showline=True, linecolor="black", linewidth=1, mirror="allticks",
        ticks="inside", ticklen=5, tickwidth=1, tickcolor="black",
        tickmode="array", tickvals=x_tick_vals, ticktext=x_tick_text,
        showticklabels=(r == 5),
        tickfont=dict(family=SANS, size=14, color="black"),
        showgrid=True, gridcolor="#333333", gridwidth=1, griddash="1px,2px",
        minor=dict(dtick=0.1, tick0=0.5, ticks="inside", ticklen=5, tickwidth=1, tickcolor="black", showgrid=False),
        zeroline=False,
    )
    fig.update_yaxes(
        row=r, col=1,
        type="log", range=[-1, 7],
        showline=True, linecolor="black", linewidth=1.8, mirror=False,
        ticks="inside", ticklen=6, tickwidth=1, tickcolor="black",
        tickmode="array", tickvals=y_tick_vals, ticktext=y_tick_text,
        tickfont=dict(family=SANS, size=14, color="black"),
        showgrid=True, gridcolor="#333333", gridwidth=1, griddash="1px,2px",
        minor=dict(tickmode="array", tickvals=minor_y, ticks="inside", ticklen=3, tickwidth=1, tickcolor="black", showgrid=False),
        zeroline=False,
        title=dict(text="NCL", font=dict(family=SANS, size=14, color="black"), standoff=7),
    )

fig.update_xaxes(row=5, col=1, title=dict(text="F", font=dict(family=SANS, size=14, color="black"), standoff=0))

# outer top / bottom frame a little heavier, like the original border
for yy in (0, 1):
    fig.add_shape(type="line", xref="paper", yref="paper", x0=0, x1=1, y0=yy, y1=yy,
                  line=dict(color="black", width=1.8))

# panel labels
for r, label in enumerate(panel_labels, start=1):
    xref = "x" if r == 1 else f"x{r}"
    yref = "y" if r == 1 else f"y{r}"
    fig.add_annotation(x=3.5, y=6, xref=xref, yref=yref, text=label, showarrow=False,
                       xanchor="left", yanchor="middle",
                       font=dict(family=SANS, size=16, color="black"))

# gnuplot-style key along the top: label, then line sample
key_text_right_px = [223, 348, 472, 617, 755]
key_y = (H - MB - 18) / plot_h
for name, tr in zip(series_names, key_text_right_px):
    st = styles[name]
    fig.add_annotation(x=(tr - ML) / plot_w, y=key_y, xref="paper", yref="paper", text=name,
                       showarrow=False, xanchor="right", yanchor="middle",
                       font=dict(family=SERIF, size=16, color="black"))
    x0 = (tr + 25 - ML) / plot_w
    x1 = (tr + 67 - ML) / plot_w
    fig.add_shape(type="line", xref="paper", yref="paper", x0=x0, x1=x1, y0=key_y, y1=key_y,
                  line=dict(color=st["color"], width=st["width"], dash=st["dash"]))

fig.update_layout(
    width=W, height=H,
    margin=dict(l=ML, r=MR, t=MT, b=MB),
    paper_bgcolor="white", plot_bgcolor="white",
    showlegend=False,
    font=dict(family=SANS, size=14, color="black"),
)

fig.write_html("out.html")
